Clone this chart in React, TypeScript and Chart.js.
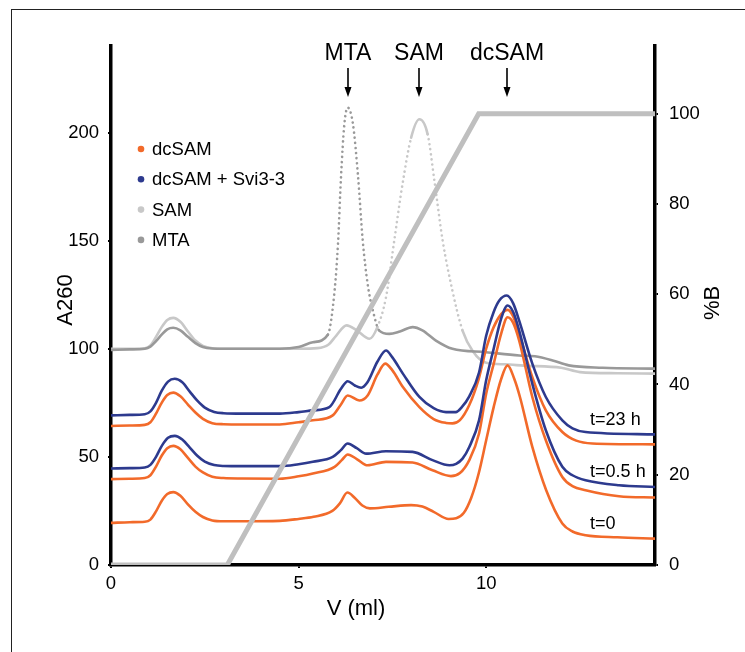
import React, { useEffect, useRef } from "react";
import { Chart, registerables } from "chart.js";

Chart.register(...registerables);

type P = [number, number];

// ---------- data (V in ml, A260) ----------
const dcSAM_t0: P[] = [
  [0, 19.5], [0.5, 19.8], [0.9, 20], [1.05, 21], [1.2, 24.8], [1.35, 29.6], [1.5, 32.8], [1.66, 33.7],
  [1.85, 32], [2.05, 28], [2.25, 24.6], [2.45, 22.2], [2.7, 20.6], [3.0, 20.2], [3.5, 20.2], [4.5, 20.4],
  [5.0, 21.3], [5.4, 22.3], [5.9, 25], [6.1, 28.5], [6.3, 33.5], [6.5, 31], [6.7, 27.5], [6.9, 26.2],
  [7.4, 26.9], [8.0, 27.7], [8.3, 27], [8.6, 24.6], [9.0, 21.3], [9.2, 21.6], [9.4, 24], [9.6, 31],
  [9.8, 42.3], [10.0, 57.7], [10.2, 73], [10.4, 86], [10.57, 92.3], [10.75, 86], [10.9, 77.7],
  [11.23, 54.6], [11.6, 34.6], [12.03, 19.2], [12.3, 15.5], [12.65, 13.8], [13.5, 12.8], [14.5, 12.2],
];
const dcSAM_t05: P[] = [
  [0, 39.7], [0.5, 39.9], [0.9, 40.2], [1.05, 41.5], [1.2, 45.5], [1.35, 50.5], [1.5, 54], [1.66, 55.1],
  [1.85, 53.5], [2.05, 49.5], [2.25, 45.5], [2.45, 42.8], [2.7, 40.8], [3.0, 40.2], [3.5, 40], [4.5, 39.9],
  [5.0, 41], [5.38, 42.3], [5.96, 45.4], [6.15, 48.5], [6.31, 51.1], [6.55, 49], [6.84, 46.1],
  [7.33, 47.7], [8.04, 47.4], [8.57, 43.8], [9.06, 41.1], [9.3, 42.5], [9.55, 48.5], [9.81, 60.8],
  [10.0, 79.2], [10.2, 93], [10.4, 107], [10.57, 114.6], [10.72, 112], [10.88, 103.8], [11.23, 77.7],
  [11.59, 57.7], [12.03, 40.7], [12.3, 36.5], [12.65, 34.6], [13.54, 31.8], [14.5, 31.2],
];
const dcSAM_t23: P[] = [
  [0, 64.3], [0.5, 64.5], [0.9, 64.8], [1.05, 66], [1.2, 70], [1.35, 75], [1.5, 78.6], [1.66, 79.7],
  [1.85, 78], [2.05, 74.2], [2.25, 70.5], [2.45, 67.6], [2.7, 65.6], [3.0, 65.1], [3.5, 65], [4.5, 65],
  [5.0, 66], [5.38, 66.9], [5.91, 69.2], [6.12, 74], [6.31, 78.4], [6.62, 76.1], [6.84, 78.4],
  [7.1, 88], [7.31, 93.1], [7.5, 90], [7.78, 82.3], [8.22, 73], [8.6, 67.5], [8.93, 65.7], [9.1, 65.5],
  [9.3, 67], [9.55, 74], [9.8, 86], [10.0, 100], [10.2, 110], [10.4, 116], [10.57, 118], [10.72, 115],
  [10.88, 106.9], [11.23, 86.9], [11.59, 71.5], [12.03, 61.5], [12.4, 57.5], [12.83, 56.2], [14.5, 55.8],
];
const svi_t05: P[] = [
  [0, 44.6], [0.5, 44.8], [0.9, 45.1], [1.05, 46.3], [1.2, 50], [1.35, 55], [1.52, 58.8], [1.7, 59.7],
  [1.9, 58], [2.1, 54.3], [2.3, 50.5], [2.5, 47.8], [2.75, 46.2], [3.0, 45.8], [3.5, 45.7], [4.5, 45.7],
  [5.0, 46.6], [5.38, 47.7], [5.91, 50], [6.12, 53], [6.31, 56.2], [6.55, 54], [6.8, 51.5],
  [7.33, 52.6], [8.04, 52.3], [8.57, 48.5], [9.02, 46.1], [9.2, 46.8], [9.37, 49.2], [9.55, 54.6],
  [9.81, 66.9], [10.0, 85.4], [10.2, 100], [10.4, 114], [10.57, 120], [10.72, 117], [10.88, 108.4],
  [11.23, 83.8], [11.59, 62.3], [12.03, 45.4], [12.3, 41.5], [12.65, 39.2], [13.54, 36.9], [14.5, 36.1],
];
const svi_t23: P[] = [
  [0, 69.2], [0.5, 69.4], [0.9, 69.7], [1.05, 71], [1.2, 75], [1.35, 80.5], [1.52, 84.8], [1.7, 86.1],
  [1.9, 84.5], [2.1, 80.2], [2.3, 76], [2.5, 72.8], [2.75, 70.8], [3.0, 70.2], [3.5, 70], [4.5, 70],
  [5.0, 70.7], [5.38, 71.5], [5.82, 73], [6.13, 81.5], [6.31, 85], [6.5, 83], [6.67, 82], [6.84, 84.6],
  [7.1, 94], [7.33, 99.2], [7.5, 96], [7.78, 88.5], [8.22, 77.7], [8.6, 72.5], [8.93, 70.7],
  [9.19, 70.7], [9.35, 73], [9.55, 78], [9.81, 89], [10.0, 106], [10.2, 117], [10.35, 122.3],
  [10.55, 124.6], [10.72, 121], [10.88, 113], [11.23, 93.1], [11.59, 77.7], [12.03, 66.9],
  [12.3, 63.2], [12.65, 61.5], [14.5, 60.4],
];
const SAM_std: P[] = [
  [0, 100], [0.5, 100], [0.9, 100.2], [1.05, 101.5], [1.2, 105.5], [1.35, 110], [1.5, 113.3],
  [1.66, 114.3], [1.85, 112.5], [2.05, 108], [2.25, 103.8], [2.45, 101.3], [2.7, 100.2], [3, 100],
  [5.0, 100], [5.5, 100.3], [5.8, 102], [6.0, 106], [6.28, 110.8], [6.55, 108.5], [6.89, 104.6],
  [7.1, 110], [7.33, 123.8], [7.55, 150], [7.77, 176.1], [8.0, 197.6], [8.22, 206.1], [8.44, 199.2],
  [8.62, 177.7], [8.84, 150], [9.1, 126.9], [9.37, 108.4], [9.64, 99], [10.0, 93.5], [10.5, 92.8],
  [11.0, 92.2], [12.0, 91.2], [12.5, 89.2], [13.5, 88.7], [14.5, 88.5],
];
const MTA_std: P[] = [
  [0, 99.5], [0.5, 99.7], [0.9, 100], [1.05, 101], [1.2, 103.5], [1.35, 106.5], [1.5, 109],
  [1.66, 109.7], [1.85, 108.5], [2.05, 105.5], [2.25, 102.6], [2.45, 100.8], [2.7, 100.1], [3, 100],
  [4.5, 100], [5.0, 100.8], [5.38, 103], [5.78, 106.5], [5.96, 126.9], [6.05, 148.4], [6.13, 179.2],
  [6.22, 203.8], [6.31, 211.5], [6.45, 203.8], [6.58, 180.8], [6.71, 150], [6.84, 130], [6.98, 117.7],
  [7.15, 108.4], [7.42, 106.9], [7.7, 108], [8.04, 110], [8.3, 108.5], [8.66, 103.8], [9.1, 100],
  [10.0, 98.4], [10.88, 96.9], [11.3, 96.5], [11.77, 94.6], [12.2, 92.3], [13.1, 91.2], [14.5, 90.8],
];
// gradient, %B
const gradientB: P[] = [[0, 0], [3.1, 0], [9.8, 100], [14.5, 100]];

const xTicks = [0, 5, 10];
const a260Ticks = [0, 50, 100, 150, 200];
const pctBTicks = [0, 20, 40, 60, 80, 100];
const peakLabels = ["MTA", "SAM", "dcSAM"];
const peakVolumes = [6.31, 8.22, 10.55];
const timeLabels = ["t=23 h", "t=0.5 h", "t=0"];
const legendLabels = ["dcSAM", "dcSAM + Svi3-3", "SAM", "MTA"];

// ---------- styles ----------
const FONT = "'Liberation Sans', Arial, Helvetica, sans-serif";
const ORANGE = "#f26a2a";
const BLUE = "#2d3a8e";
const LGRAY = "#c8c8c8";
const DGRAY = "#999999";
const GRAD = "#bfbfbf";
const legendColors = [ORANGE, BLUE, LGRAY, DGRAY];

const toXY = (d: P[]) => d.map(([x, y]) => ({ x, y }));

const steepDash = (c: any) => {
  const dx = Math.abs(c.p1.x - c.p0.x);
  const dy = Math.abs(c.p1.y - c.p0.y);
  return dy > dx * 2.5 ? [0.1, 5] : undefined;
};

const trace = (data: P[], color: string, dotted = false) => ({
  data: toXY(data),
  borderColor: color,
  backgroundColor: color,
  borderWidth: 2.6,
  pointRadius: 0,
  cubicInterpolationMode: "monotone" as const,
  borderCapStyle: "round" as const,
  yAxisID: "y",
  segment: dotted ? { borderDash: steepDash } : undefined,
});

const overlay = {
  id: "overlay",
  afterDatasetsDraw(chart: any) {
    const { ctx, scales } = chart;
    const xs = scales.x;
    const ys = scales.y;
    ctx.save();
    ctx.fillStyle = "#000";
    ctx.strokeStyle = "#000";
    // peak labels + arrows
    ctx.font = `23px ${FONT}`;
    ctx.textAlign = "center";
    ctx.textBaseline = "middle";
    peakLabels.forEach((t, i) => {
      const px = Math.round(xs.getPixelForValue(peakVolumes[i]));
      ctx.fillText(t, px, 54);
      ctx.lineWidth = 1.6;
      ctx.beginPath();
      ctx.moveTo(px, 68);
      ctx.lineTo(px, 89);
      ctx.stroke();
      ctx.beginPath();
      ctx.moveTo(px - 3.5, 87);
      ctx.lineTo(px + 3.5, 87);
      ctx.lineTo(px, 97);
      ctx.closePath();
      ctx.fill();
    });
    // time labels
    const timeAnchors = [66.9, 43, 19];
    ctx.font = `18px ${FONT}`;
    ctx.textAlign = "left";
    timeLabels.forEach((t, i) => {
      ctx.fillText(t, xs.getPixelForValue(12.77), ys.getPixelForValue(timeAnchors[i]));
    });
    // legend
    ctx.font = `18.5px ${FONT}`;
    legendLabels.forEach((t, i) => {
      const yy = 149 + i * 30.3;
      ctx.fillStyle = legendColors[i];
      ctx.beginPath();
      ctx.arc(141, yy, 3.3, 0, Math.PI * 2);
      ctx.fill();
      ctx.fillStyle = "#000";
      ctx.fillText(t, 152, yy + 1);
    });
    // axis titles
    ctx.font = `22px ${FONT}`;
    ctx.textAlign = "center";
    ctx.fillText("V (ml)", 356, 609);
    ctx.save();
    ctx.translate(66, 300);
    ctx.rotate(-Math.PI / 2);
    ctx.fillText("A260", 0, 0);
    ctx.restore();
    ctx.save();
    ctx.translate(713, 303);
    ctx.rotate(-Math.PI / 2);
    ctx.fillText("%B", 0, 0);
    ctx.restore();
    ctx.restore();
  },
};

export default function App() {
  const ref = useRef<HTMLCanvasElement | null>(null);
  useEffect(() => {
    if (!ref.current) return;
    Chart.defaults.font.family = FONT;
    Chart.defaults.color = "#000";
    const tickFont = { size: 18.5, family: FONT };
    const chart = new Chart(ref.current, {
      type: "line",
      data: {
        datasets: [
          {
            data: toXY(gradientB),
            borderColor: GRAD,
            borderWidth: 5,
            pointRadius: 0,
            tension: 0,
            yAxisID: "y2",
          } as any,
          trace(svi_t23, BLUE),
          trace(svi_t05, BLUE),
          trace(dcSAM_t23, ORANGE),
          trace(dcSAM_t05, ORANGE),
          trace(dcSAM_t0, ORANGE),
          trace(MTA_std, DGRAY, true),
          trace(SAM_std, LGRAY, true),
        ],
      },
      options: {
        responsive: false,
        animation: false,
        devicePixelRatio: 1,
        layout: { padding: { top: 46, left: 0, right: 0, bottom: 0 } },
        plugins: { legend: { display: false }, tooltip: { enabled: false } },
        scales: {
          x: {
            type: "linear",
            min: 0,
            max: 14.5,
            afterBuildTicks: (s: any) => { s.ticks = xTicks.map((v) => ({ value: v })); },
            afterFit: (s: any) => { s.height = 87; },
            ticks: { font: tickFont, padding: 5, maxRotation: 0 },
            grid: { display: true, drawOnChartArea: false, drawTicks: true, tickLength: 3, color: "#000", lineWidth: 2 },
            border: { display: true, color: "#000", width: 3.5 },
          },
          y: {
            type: "linear",
            position: "left",
            min: 0,
            max: 240,
            afterBuildTicks: (s: any) => { s.ticks = a260Ticks.map((v) => ({ value: v })); },
            afterFit: (s: any) => { s.width = 111; },
            ticks: { font: tickFont, padding: 9 },
            grid: { display: true, drawOnChartArea: false, drawTicks: true, tickLength: 3, color: "#000", lineWidth: 2 },
            border: { display: true, color: "#000", width: 3.5 },
          },
          y2: {
            type: "linear",
            position: "right",
            min: 0,
            max: 115,
            afterBuildTicks: (s: any) => { s.ticks = pctBTicks.map((v) => ({ value: v })); },
            afterFit: (s: any) => { s.width = 90; },
            ticks: { font: tickFont, padding: 11 },
            grid: { display: true, drawOnChartArea: false, drawTicks: true, tickLength: 3, color: "#000", lineWidth: 2 },
            border: { display: true, color: "#000", width: 3.5 },
          },
        },
      } as any,
      plugins: [overlay],
    });
    return () => chart.destroy();
  }, []);

  return (
    <div style={{ position: "fixed", left: 0, top: 0, width: 745, height: 652, background: "#fff" }}>
      <div
        style={{
          position: "absolute",
          left: 11,
          top: 9,
          right: -5,
          bottom: -5,
          borderLeft: "1.5px solid #222",
          borderTop: "1.5px solid #222",
        }}
      />
      <canvas ref={ref} width={745} height={652} style={{ position: "absolute", left: 0, top: 0, width: 745, height: 652 }} />
    </div>
  );
}
